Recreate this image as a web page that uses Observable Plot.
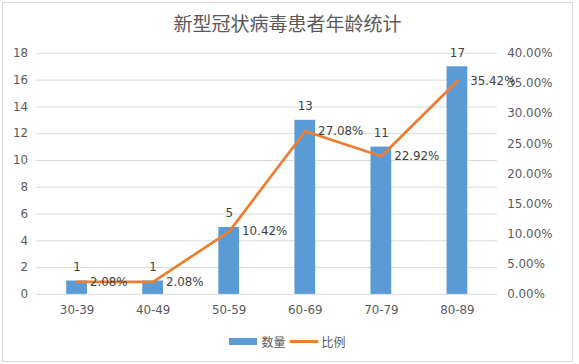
<!DOCTYPE html>
<html>
<head>
<meta charset="utf-8">
<script src="https://cdn.jsdelivr.net/npm/d3@7"></script>
<script src="https://cdn.jsdelivr.net/npm/@observablehq/plot@0.6"></script>
<style>
  html, body { margin: 0; padding: 0; background: #fff; }
  #chart {
    position: relative; width: 569px; height: 358px; margin: 2px 0 0 2px;
    border: 1px solid #d9d9d9; background: #fff; overflow: hidden;
    font-family: "DejaVu Sans", "Noto Sans CJK SC", sans-serif; color: #595959;
  }
  #title {
    position: absolute; top: 8px; left: 0; width: 569px; text-align: center;
    font-family: "Noto Sans CJK SC", sans-serif; font-size: 19px; color: #595959; line-height: 24px;
  }
  #plot { position: absolute; top: 38px; left: -3px; line-height: 0; }
  #legend {
    position: absolute; top: 330px; left: 0; width: 569px; display: flex; justify-content: center;
    align-items: center; font-family: "Noto Sans CJK SC", sans-serif; font-size: 12px; color: #595959;
  }
  .sw { display: inline-block; width: 28px; margin-right: 4px; }
</style>
</head>
<body>
<div id="chart">
  <div id="title">新型冠状病毒患者年龄统计</div>
  <div id="plot"></div>
  <div id="legend">
    <span class="sw" style="height:7px;background:#5b9bd5"></span><span style="margin-right:4px">数量</span>
    <span class="sw" style="height:3px;background:#ed7d31"></span><span>比例</span>
  </div>
</div>
<script>
const ageGroups = ["30-39", "40-49", "50-59", "60-69", "70-79", "80-89"];
const counts = [1, 1, 5, 13, 11, 17];
const percents = [2.08, 2.08, 10.42, 27.08, 22.92, 35.42];
const leftTicks = [0, 2, 4, 6, 8, 10, 12, 14, 16, 18];
const rightTicks = [0, 5, 10, 15, 20, 25, 30, 35, 40];

const countMax = 18, pctMax = 40;
const toLeft = p => p * countMax / pctMax;

const data = ageGroups.map((g, i) => ({group: g, count: counts[i], pct: percents[i], pctY: toLeft(percents[i])}));

const chart = Plot.plot({
  width: 579,
  height: 282,
  marginTop: 12,
  marginBottom: 26,
  marginLeft: 36,
  marginRight: 76,
  style: {fontFamily: "DejaVu Sans, sans-serif", fontSize: "12px", color: "#595959", background: "transparent"},
  x: {domain: ageGroups, paddingInner: 0.73, paddingOuter: 0.365, label: null},
  y: {domain: [0, countMax], label: null},
  marks: [
    Plot.gridY(leftTicks, {stroke: "#d9d9d9", strokeOpacity: 1}),
    Plot.axisY(leftTicks, {anchor: "left", tickSize: 0, tickPadding: 8, label: null, fill: "#595959"}),
    Plot.axisY(rightTicks.map(toLeft), {anchor: "right", tickSize: 0, tickPadding: 10, label: null, textAnchor: "start",
      fill: "#595959", tickFormat: d => (d * pctMax / countMax).toFixed(2) + "%"}),
    Plot.axisX({tickSize: 0, tickPadding: 11, label: null, fill: "#595959"}),
    Plot.barY(data, {x: "group", y: "count", fill: "#5b9bd5"}),
    Plot.lineY(data, {x: "group", y: "pctY", stroke: "#ed7d31", strokeWidth: 2.75, strokeLinejoin: "round", strokeLinecap: "round"}),
    Plot.text(data, {x: "group", y: "count", text: d => String(d.count), dy: -14, fill: "#404040", fontSize: 12}),
    Plot.text(data, {x: "group", y: "pctY", text: d => d.pct.toFixed(2) + "%", dx: 13, textAnchor: "start", fill: "#404040", fontSize: 12})
  ]
});
document.getElementById("plot").appendChild(chart);
</script>
</body>
</html>
